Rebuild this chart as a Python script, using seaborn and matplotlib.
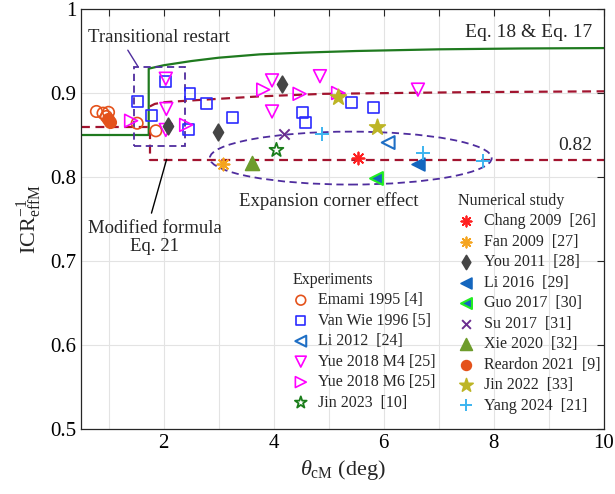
import matplotlib
matplotlib.use("Agg")
import matplotlib.pyplot as plt
from matplotlib.patches import Ellipse, Rectangle
import seaborn as sns

# ---------------- data ----------------
# Experiments
emami_x = [0.78, 0.90, 1.00, 0.96, 1.52, 1.86]
emami_y = [0.878, 0.876, 0.877, 0.872, 0.864, 0.855]
vanwie_x = [1.52, 2.04, 1.78, 2.48, 2.46, 2.78, 3.26, 4.53, 4.58, 5.42, 5.81]
vanwie_y = [0.890, 0.914, 0.873, 0.899, 0.856, 0.887, 0.871, 0.877, 0.865, 0.889, 0.883]
li2012_x = [6.08]
li2012_y = [0.841]
yue_m4_x = [2.04, 2.05, 2.04, 3.97, 3.97, 4.84, 6.62]
yue_m4_y = [0.917, 0.881, 0.856, 0.915, 0.878, 0.920, 0.904]
yue_m6_x = [1.41, 2.41, 3.81, 4.47, 5.17]
yue_m6_y = [0.867, 0.862, 0.904, 0.899, 0.900]
jin2023_x = [4.05]
jin2023_y = [0.832]

# Numerical study
chang_x = [5.53]
chang_y = [0.823]
fan_x = [3.08]
fan_y = [0.816]
you_x = [2.08, 2.98, 4.16]
you_y = [0.861, 0.854, 0.911]
li2016_x = [6.62]
li2016_y = [0.816]
guo_x = [5.85]
guo_y = [0.799]
su_x = [4.18]
su_y = [0.851]
xie_x = [3.61]
xie_y = [0.817]
reardon_x = [0.99, 1.02]
reardon_y = [0.869, 0.865]
jin2022_x = [5.17, 5.88]
jin2022_y = [0.895, 0.859]
yang_x = [4.87, 6.71, 7.81]
yang_y = [0.851, 0.829, 0.8195]

# Model curves
eq17_x = [0.5, 1.73, 1.73, 2.0, 2.5, 3.0, 3.75, 4.5, 5.5, 7.0, 8.5, 10.0]
eq17_y = [0.85, 0.85, 0.929, 0.933, 0.938, 0.942, 0.946, 0.948, 0.950, 0.952, 0.953, 0.9535]
eq21_low_x = [0.5, 1.75, 1.75, 10.0]
eq21_low_y = [0.86, 0.86, 0.82, 0.82]
eq21_up_x = [1.75, 1.84, 2.0, 2.47, 3.75, 4.9, 7.56, 10.0]
eq21_up_y = [0.884, 0.887, 0.889, 0.891, 0.896, 0.899, 0.901, 0.902]

x_ticks = [2, 4, 6, 8, 10]
x_minor = [1, 3, 5, 7, 9]
y_ticks = [0.5, 0.6, 0.7, 0.8, 0.9, 1.0]
y_ticklabels = ["0.5", "0.6", "0.7", "0.8", "0.9", "1"]

# ---------------- style ----------------
sns.set_style("white")
plt.rcParams["font.family"] = ["Liberation Serif", "DejaVu Serif"]
plt.rcParams["mathtext.fontset"] = "custom"
plt.rcParams["mathtext.rm"] = "Liberation Serif"
plt.rcParams["mathtext.it"] = "Liberation Serif:italic"
plt.rcParams["mathtext.bf"] = "Liberation Serif:bold"

C_GREEN = "#1f7a1f"
C_RED = "#A2142F"
C_PURPLE = "#4F2D9E"
DASH = (0, (4, 2.5))

fig = plt.figure(figsize=(6.15, 4.94), dpi=100)
ax = fig.add_axes([81 / 615, 1 - 429 / 494, 523 / 615, 420 / 494])

# model curves
sns.lineplot(x=eq17_x, y=eq17_y, sort=False, estimator=None, color=C_GREEN,
             lw=1.6, ax=ax, zorder=2)
sns.lineplot(x=eq21_low_x, y=eq21_low_y, sort=False, estimator=None, color=C_RED,
             lw=1.6, ax=ax, zorder=2, linestyle=DASH)
sns.lineplot(x=eq21_up_x, y=eq21_up_y, sort=False, estimator=None, color=C_RED,
             lw=1.6, ax=ax, zorder=2, linestyle=DASH)

# highlighted regions
ax.add_patch(Rectangle((1.455, 0.837), 2.39 - 1.455, 0.931 - 0.837, fill=False,
                       ec=C_PURPLE, lw=1.3, ls=DASH, zorder=2))
ax.add_patch(Ellipse((5.40, 0.8225), 5.12, 0.063, fill=False,
                     ec=C_PURPLE, lw=1.3, ls=DASH, zorder=2))


def pts(x, y, label, marker, s, face, edge, lw=1.2):
    sns.scatterplot(x=x, y=y, marker=marker, s=s, facecolor=face, edgecolor=edge,
                    linewidth=lw, ax=ax, zorder=4, label=label, legend=False)
    return ax.collections[-1]


def pts_line(x, y, label, marker, s, color, lw=1.3):
    sns.scatterplot(x=x, y=y, marker=marker, s=s, color=color,
                    linewidth=lw, ax=ax, zorder=4, label=label, legend=False)
    return ax.collections[-1]


exp_handles = [
    pts(emami_x, emami_y, "Emami 1995 [4]", "o", 68, "none", "#E4521B"),
    pts(vanwie_x, vanwie_y, "Van Wie 1996 [5]", "s", 62, "none", "#2b2bff"),
    pts(li2012_x, li2012_y, "Li 2012  [24]", "<", 85, "none", "#1f6fc5", 1.5),
    pts(yue_m4_x, yue_m4_y, "Yue 2018 M4 [25]", "v", 85, "none", "#ff00ff"),
    pts(yue_m6_x, yue_m6_y, "Yue 2018 M6 [25]", ">", 85, "none", "#ff00ff"),
    pts(jin2023_x, jin2023_y, "Jin 2023  [10]", "*", 110, "none", "#1a7d1a", 1.3),
]
num_handles = [
    pts_line(chang_x, chang_y, "Chang 2009  [26]", (8, 2, 0), 75, "#ff2020"),
    pts_line(fan_x, fan_y, "Fan 2009  [27]", (8, 2, 0), 75, "#f5a41e"),
    pts(you_x, you_y, "You 2011  [28]", "d", 72, "#454545", "#454545"),
    pts(li2016_x, li2016_y, "Li 2016  [29]", "<", 85, "#1466be", "#1466be"),
    pts(guo_x, guo_y, "Guo 2017  [30]", "<", 85, "#1466be", "#22ee22", 1.5),
    pts_line(su_x, su_y, "Su 2017  [31]", "x", 55, "#6b2d8f", 1.4),
    pts(xie_x, xie_y, "Xie 2020  [32]", "^", 100, "#6e9c2c", "#6e9c2c"),
    pts(reardon_x, reardon_y, "Reardon 2021  [9]", "o", 68, "#E4521B", "#E4521B"),
    pts(jin2022_x, jin2022_y, "Jin 2022  [33]", "*", 140, "#bdb526", "#bdb526"),
    pts_line(yang_x, yang_y, "Yang 2024  [21]", "+", 90, "#3cb4f0", 1.4),
]

# axes
ax.set_xlim(0.5, 10)
ax.set_ylim(0.5, 1.0)
ax.set_xticks(x_ticks)
ax.set_xticklabels([str(t) for t in x_ticks])
ax.set_xticks(x_minor, minor=True)
ax.set_yticks(y_ticks)
ax.set_yticklabels(y_ticklabels)
ax.tick_params(which="both", direction="in", top=True, right=True, length=5,
               width=0.8, color="#262626", labelsize=15, labelcolor="black")
ax.grid(True, which="both", axis="x", color="#e3e3e3", lw=0.8, zorder=0)
ax.grid(True, which="major", axis="y", color="#e3e3e3", lw=0.8, zorder=0)
ax.set_axisbelow(True)
for sp in ax.spines.values():
    sp.set_color("#262626")
    sp.set_linewidth(0.9)

ax.set_xlabel(r"$\it{\theta}_{\mathrm{cM}}$ (deg)", fontsize=16, labelpad=4)
ax.set_ylabel(r"$\mathrm{ICR}^{-1}_{\mathrm{effM}}$", fontsize=16, labelpad=4)

# annotations
ax.text(9.78, 0.9716, "Eq. 18 & Eq. 17", ha="right", va="center", fontsize=14)
ax.text(9.78, 0.8375, "0.82", ha="right", va="center", fontsize=14)
ax.text(0.62, 0.9656, "Transitional restart", ha="left", va="center", fontsize=13.5)
ax.plot([1.35, 1.53], [0.951, 0.932], color=C_PURPLE, lw=1.0)
ax.text(1.84, 0.7277, "Modified formula\nEq. 21", ha="center", va="center",
        fontsize=13.5, linespacing=1.05)
ax.plot([1.78, 2.055], [0.757, 0.821], color="black", lw=1.0)
ax.text(5.0, 0.7716, "Expansion corner effect", ha="center", va="center", fontsize=13.5)

leg_kw = dict(loc="upper left", frameon=False, fontsize=11.5, title_fontsize=11.5,
              alignment="left", handlelength=1.0, handletextpad=0.6,
              labelspacing=0.28, borderpad=0, borderaxespad=0, scatterpoints=1,
              markerscale=0.85)
leg1 = ax.legend(handles=exp_handles, labels=[h.get_label() for h in exp_handles],
                 title="Experiments", bbox_to_anchor=(0.405, 0.374), **leg_kw)
ax.add_artist(leg1)
ax.legend(handles=num_handles, labels=[h.get_label() for h in num_handles],
          title="Numerical study", bbox_to_anchor=(0.721, 0.562), **leg_kw)

fig.savefig("out.png", dpi=100)
